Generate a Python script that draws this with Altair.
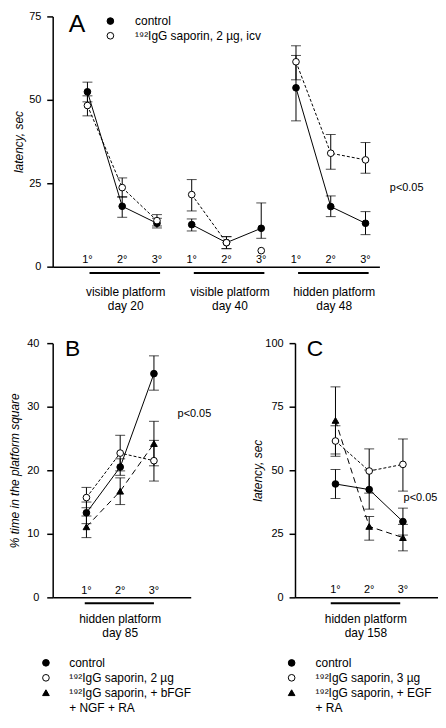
import altair as alt
import pandas as pd

FONT = "Liberation Sans"

# ---------------- Panel A data ----------------
A_x = [1, 2, 3, 4, 5, 6, 7, 8, 9]
A_trial = ["1°", "2°", "3°"] * 3
A_ctrl_seg = ["d20"] * 3 + ["d40"] * 3 + ["d48"] * 3
A_ctrl = [52.4, 18.1, 13.0, 12.6, 7.2, 11.5, 53.6, 18.0, 13.0]
A_ctrl_lo = [49.4, 14.8, 11.6, 10.7, 5.4, 8.5, 43.7, 15.0, 9.6]
A_ctrl_hi = [55.3, 21.0, 14.5, 14.3, 9.0, 19.1, 63.3, 21.2, 16.5]
A_sap_seg = ["d20"] * 3 + ["d40", "d40", "d40x"] + ["d48"] * 3
A_sap = [48.3, 23.7, 13.8, 21.6, 7.2, 4.8, 61.4, 34.0, 32.0]
A_sap_lo = [45.2, 20.8, 12.2, 16.7, 5.4, None, 56.0, 29.2, 28.0]
A_sap_hi = [51.2, 26.6, 15.6, 26.1, 9.0, None, 66.2, 39.6, 37.2]
A_groups = ["visible platform\nday 20", "visible platform\nday 40", "hidden platform\nday 48"]
A_group_x = [2, 5, 8]
A_legend = ["control", "¹⁹²IgG saporin, 2  µg, icv"]

# ---------------- Panel B data ----------------
B_x = [1, 2, 3]
B_trial = ["1°", "2°", "3°"]
B_ctrl = [13.3, 20.5, 35.2]
B_ctrl_lo = [11.6, 19.2, 32.6]
B_ctrl_hi = [15.0, 21.8, 38.0]
B_sap = [15.7, 22.7, 21.5]
B_sap_lo = [14.1, 19.9, 18.3]
B_sap_hi = [17.3, 25.5, 24.7]
B_tri = [11.1, 16.7, 24.2]
B_tri_lo = [9.4, 14.6, 20.7]
B_tri_hi = [12.8, 18.8, 27.7]
B_group = "hidden platform\nday 85"
B_legend = ["control", "¹⁹²IgG saporin, 2  µg", "¹⁹²IgG saporin, + bFGF", "+ NGF + RA"]

# ---------------- Panel C data ----------------
C_x = [1, 2, 3]
C_trial = ["1°", "2°", "3°"]
C_ctrl = [44.6, 42.4, 29.8]
C_ctrl_lo = [38.9, 34.7, 24.5]
C_ctrl_hi = [50.3, 50.1, 35.1]
C_sap = [61.5, 49.7, 52.3]
C_sap_lo = [55.5, 41.0, 41.8]
C_sap_hi = [67.5, 58.4, 62.3]
C_tri = [69.6, 27.9, 23.5]
C_tri_lo = [56.4, 22.5, 18.3]
C_tri_hi = [82.8, 31.8, 28.7]
C_group = "hidden platform\nday 158"
C_legend = ["control", "¹⁹²IgG saporin, 3  µg", "¹⁹²IgG saporin, + EGF", "+ RA"]


def yaxis(values, title, tpad, lpad):
    return alt.Axis(values=values, title=title, grid=False, tickSize=6,
                    labelPadding=lpad, titlePadding=tpad, labelFont=FONT,
                    labelFontSize=11, labelColor="black", titleFont=FONT,
                    titleFontSize=12, titleFontStyle="italic",
                    titleFontWeight="normal", titleColor="black",
                    domainColor="black", domainWidth=1.5, tickColor="black",
                    tickWidth=1.5)


XAXIS = alt.Axis(labels=False, ticks=False, title=None, grid=False,
                 domainColor="black", domainWidth=1.5)


def series(df, X, Y, dash, shape, fill):
    base = alt.Chart(df)
    lk = dict(color="black", strokeWidth=1)
    if dash:
        lk["strokeDash"] = dash
    line = base.mark_line(**lk).encode(x=X("x"), y=Y("y"), detail="seg:N")
    eb = base.transform_filter("isValid(datum.lo)")
    rule = eb.mark_rule(color="black", strokeWidth=1).encode(
        x=X("x"), y=Y("lo"), y2=alt.Y2("hi"))
    cap1 = eb.mark_tick(orient="horizontal", size=10, thickness=1, color="black").encode(
        x=X("x"), y=Y("lo"))
    cap2 = eb.mark_tick(orient="horizontal", size=10, thickness=1, color="black").encode(
        x=X("x"), y=Y("hi"))
    pt = base.mark_point(shape=shape, filled=True, fill=fill, stroke="black",
                         strokeWidth=1, size=45, opacity=1).encode(x=X("x"), y=Y("y"))
    return [line, rule, cap1, cap2], [pt]


def text_layer(df, X, Y, size, align="center", **kw):
    return alt.Chart(df).mark_text(font=FONT, fontSize=size, align=align,
                                   baseline="middle", color="black",
                                   lineBreak="\n", **kw).encode(
        x=X("x"), y=Y("y"), text="t:N")


def make_panel(xs, ys, yax, w, h, series_list, trials, trial_y, letter, letter_xy,
               letter_size, pval_xy, groups, group_xy, under, legend_rows):
    X = lambda f: alt.X(f, type="quantitative", scale=xs, axis=XAXIS)
    Y = lambda f: alt.Y(f, type="quantitative", scale=ys, axis=yax)
    back, front = [], []
    for df, dash, shape, fill in series_list:
        b, f = series(df, X, Y, dash, shape, fill)
        back += b
        front += f
    layers = back + front
    layers.append(text_layer(pd.DataFrame({"x": trials[0], "t": trials[1], "y": trial_y}),
                             X, Y, 11))
    layers.append(text_layer(pd.DataFrame({"x": [letter_xy[0]], "y": [letter_xy[1]],
                                           "t": [letter]}), X, Y, letter_size))
    layers.append(text_layer(pd.DataFrame({"x": [pval_xy[0]], "y": [pval_xy[1]],
                                           "t": ["p<0.05"]}), X, Y, 11, align="left"))
    layers.append(text_layer(pd.DataFrame({"x": group_xy[0], "y": group_xy[1],
                                           "t": groups}), X, Y, 12, lineHeight=14))
    udf = pd.DataFrame({"x": under[0], "x2": under[1], "y": under[2]})
    layers.append(alt.Chart(udf).mark_rule(color="black", strokeWidth=2).encode(
        x=X("x"), x2=alt.X2("x2"), y=Y("y")))
    # legend
    mk, tx = legend_rows
    for shape, fill, lx, ly in mk:
        layers.append(alt.Chart(pd.DataFrame({"x": [lx], "y": [ly]})).mark_point(
            shape=shape, filled=True, fill=fill, stroke="black", strokeWidth=1,
            size=45, opacity=1).encode(x=X("x"), y=Y("y")))
    layers.append(text_layer(pd.DataFrame(tx), X, Y, 12, align="left"))
    return alt.layer(*layers).properties(width=w, height=h)


def sdf(x, y, lo, hi, seg=None):
    return pd.DataFrame({"x": x, "y": y, "lo": lo, "hi": hi,
                         "seg": seg if seg is not None else ["a"] * len(x)})


# ---------------- Panel A ----------------
A = make_panel(
    alt.Scale(domain=[0, 9.4], nice=False, zero=False),
    alt.Scale(domain=[0, 75], nice=False),
    yaxis([0, 25, 50, 75], "latency, sec", 3, 6), 329, 252,
    [(sdf(A_x, A_ctrl, A_ctrl_lo, A_ctrl_hi, A_ctrl_seg), None, "circle", "black"),
     (sdf(A_x, A_sap, A_sap_lo, A_sap_hi, A_sap_seg), [3, 2], "circle", "white")],
    (A_x, A_trial), 2.08, "A", (0.7, 72.7), 25, (9.7, 23.6),
    A_groups, ([g + 0.1 for g in A_group_x], [-7.65] * 3),
    ([g - 0.94 for g in A_group_x], [g + 1.09 for g in A_group_x], [-1.88] * 3),
    ([("circle", "black", 1.66, 73.6), ("circle", "white", 1.66, 69.2)],
     {"x": [2.37, 2.37], "y": [73.6, 69.2], "t": A_legend}),
)

# ---------------- Panel B ----------------
B = make_panel(
    alt.Scale(domain=[0, 4.09], nice=False, zero=False),
    alt.Scale(domain=[0, 40], nice=False),
    yaxis([0, 10, 20, 30, 40], "% time in the platform square", 5, 8), 139, 256,
    [(sdf(B_x, B_ctrl, B_ctrl_lo, B_ctrl_hi), None, "circle", "black"),
     (sdf(B_x, B_sap, B_sap_lo, B_sap_hi), [3, 2], "circle", "white"),
     (sdf(B_x, B_tri, B_tri_lo, B_tri_hi), [6, 4], "triangle-up", "black")],
    (B_x, B_trial), 1.05, "B", (0.59, 39.06), 23, (3.7, 28.8),
    [B_group], ([2.0], [-3.4]),
    ([0.95], [3.0], [-0.94]),
    ([("circle", "black", -0.2, -10.3), ("circle", "white", -0.2, -12.66),
      ("triangle-up", "black", -0.2, -15.0)],
     {"x": [0.49] * 4, "y": [-10.3, -12.66, -15.0, -17.34], "t": B_legend}),
)

# ---------------- Panel C ----------------
C = make_panel(
    alt.Scale(domain=[-0.2, 4.04], nice=False, zero=False),
    alt.Scale(domain=[0, 100], nice=False),
    yaxis([0, 25, 50, 75, 100], "latency, sec", 0, 6), 144, 256,
    [(sdf(C_x, C_ctrl, C_ctrl_lo, C_ctrl_hi), None, "circle", "black"),
     (sdf(C_x, C_sap, C_sap_lo, C_sap_hi), [3, 2], "circle", "white"),
     (sdf(C_x, C_tri, C_tri_lo, C_tri_hi), [6, 4], "triangle-up", "black")],
    (C_x, C_trial), 2.7, "C", (0.39, 97.66), 23, (3.02, 39.0),
    [C_group], ([1.9], [-8.48]),
    ([0.86], [2.92], [-2.34]),
    ([("circle", "black", -0.3, -25.8), ("circle", "white", -0.3, -31.64),
      ("triangle-up", "black", -0.3, -37.5)],
     {"x": [0.41] * 4, "y": [-25.8, -31.64, -37.5, -43.36], "t": C_legend}),
)

chart = alt.vconcat(
    A, alt.hconcat(B, C, spacing=40), spacing=25
).properties(padding={"left": 0, "top": 0, "right": 0, "bottom": 0}
).configure_view(stroke=None)

chart.save("out.html", embed_options={"renderer": "svg", "actions": False})
